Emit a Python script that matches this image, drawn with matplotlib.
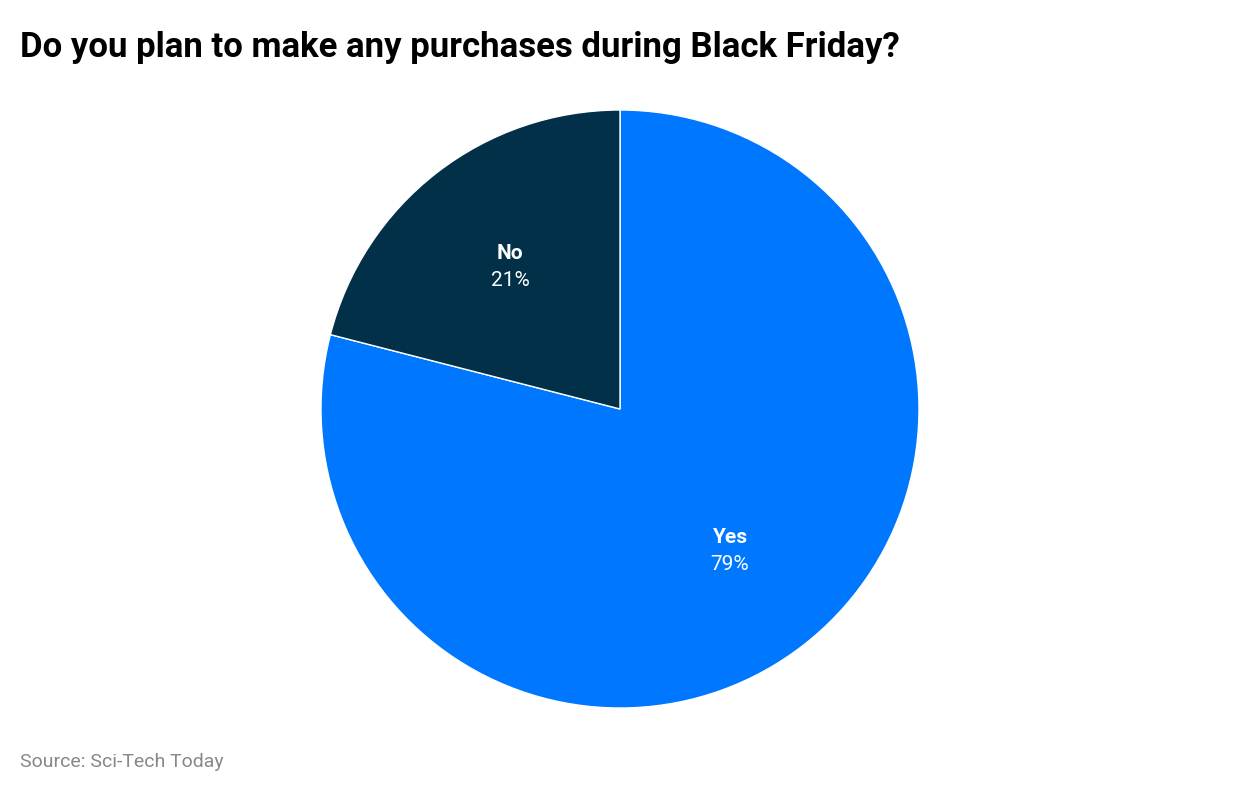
import matplotlib
matplotlib.use("Agg")
import matplotlib.pyplot as plt
import numpy as np

labels = ["Yes", "No"]
values = [79, 21]
colors = ["#0077FF", "#023049"]

plt.rcParams['font.family'] = ['Roboto', 'DejaVu Sans']
fig = plt.figure(figsize=(12.4, 7.96), dpi=100)
cx, cy, r = 620, 409, 299
ax = fig.add_axes([(cx - r) / 1240, (796 - cy - r) / 796, 2 * r / 1240, 2 * r / 796])
wedges, _ = ax.pie(values, colors=colors, startangle=90, counterclock=False,
                   wedgeprops=dict(edgecolor="white", linewidth=1))
ax.set_xlim(-1, 1); ax.set_ylim(-1, 1); ax.set_aspect('equal')
ax.axis('off')
for w, lab, v in zip(wedges, labels, values):
    ang = np.deg2rad((w.theta1 + w.theta2) / 2)
    d = 0.6
    x, y = d * np.cos(ang), d * np.sin(ang)
    ax.text(x, y + 0.045, lab, ha='center', va='center', color='white', fontsize=15, fontweight='bold')
    ax.text(x, y - 0.045, f"{v}%", ha='center', va='center', color='white', fontsize=15)

fig.text(20 / 1240, 1 - 47 / 796, "Do you plan to make any purchases during Black Friday?",
         fontsize=25, fontweight='bold', va='center', ha='left')
fig.text(20 / 1240, 1 - 762 / 796, "Source: Sci-Tech Today", fontsize=14, color='#888888',
         va='center', ha='left')
fig.savefig("out.png", dpi=100)
